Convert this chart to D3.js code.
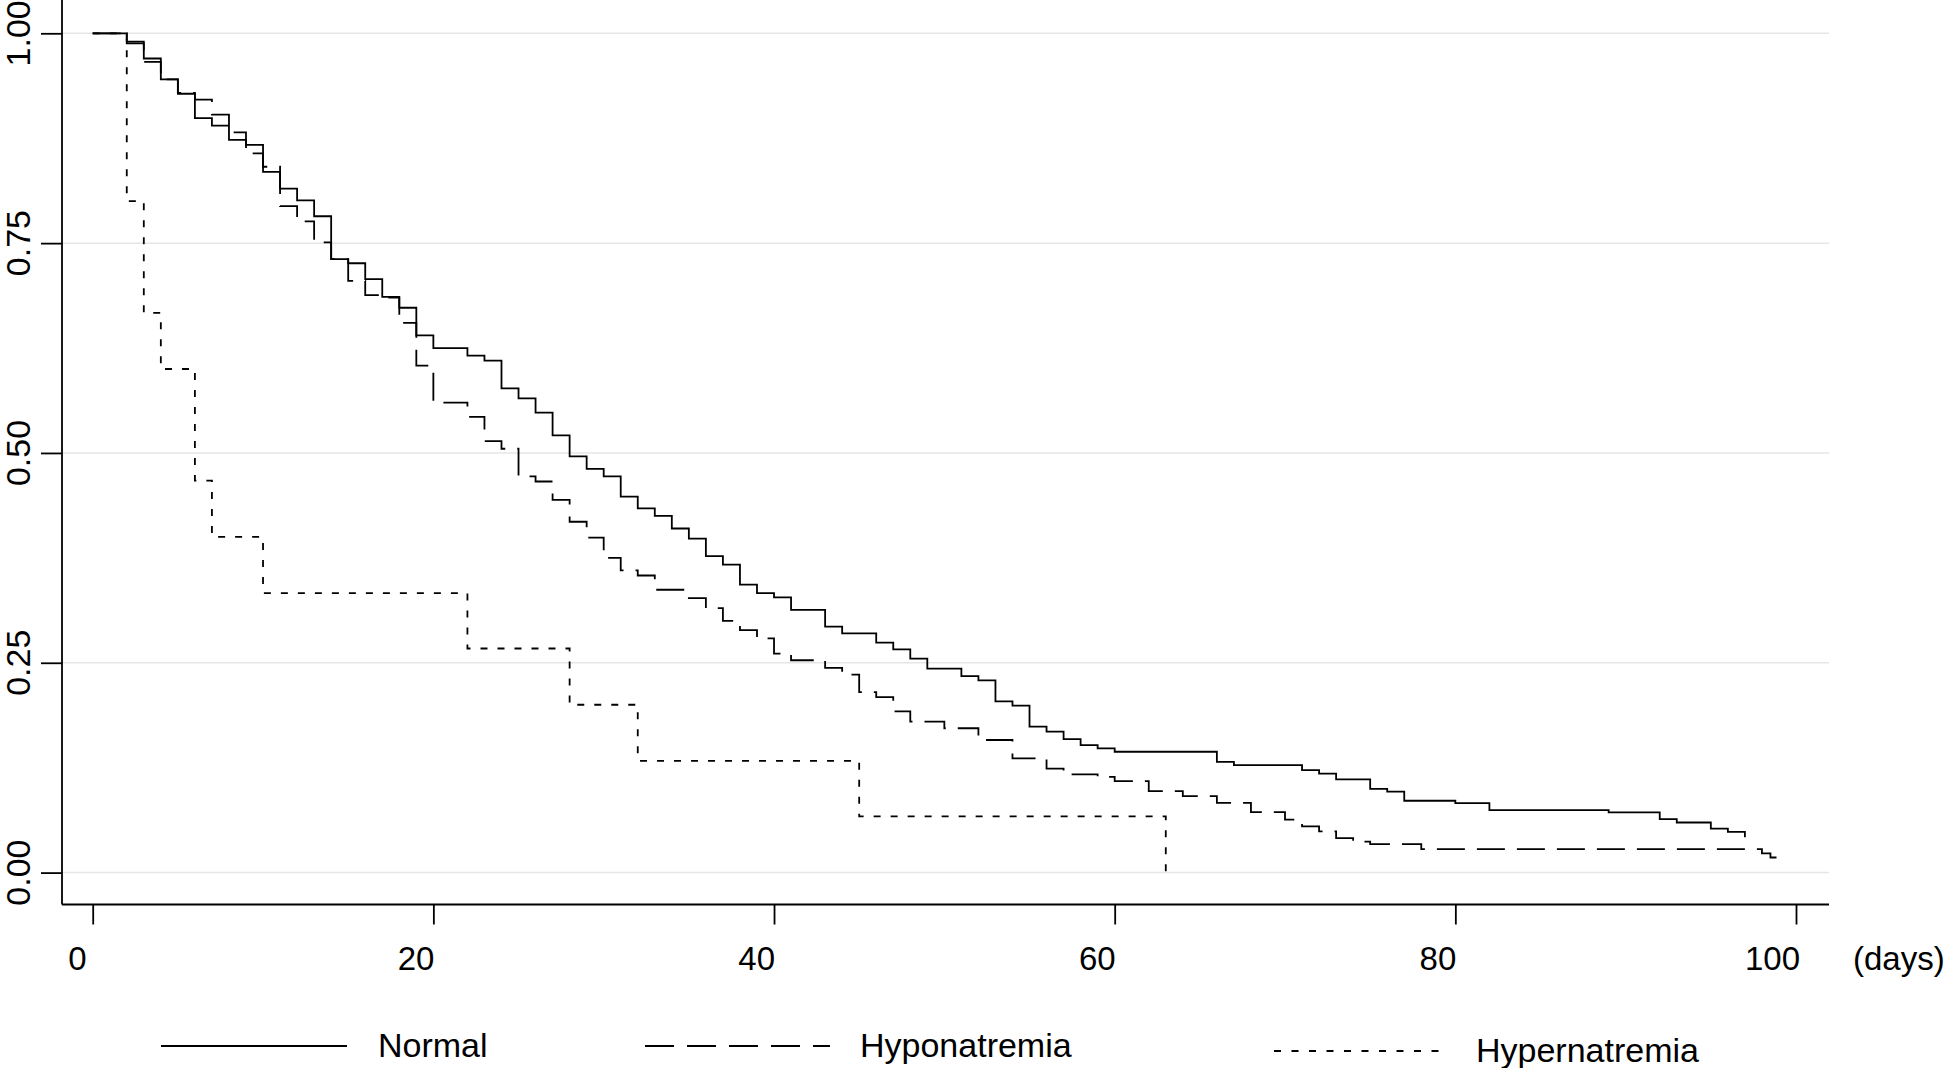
<!DOCTYPE html>
<html>
<head>
<meta charset="utf-8">
<script src="https://cdn.jsdelivr.net/npm/d3@7"></script>
<style>
  html, body { margin: 0; padding: 0; background: #ffffff; }
  svg { display: block; }
  text { font-family: "Liberation Sans", Arial, Helvetica, sans-serif; fill: #000; }
</style>
</head>
<body>
<svg id="chart" width="1946" height="1068"></svg>
<script>
// ---- data ----
const xTicks = [0, 20, 40, 60, 80, 100];
const xTickLabels = ["0", "20", "40", "60", "80", "100"];
const xUnitLabel = "(days)";
const yTicks = [0, 0.25, 0.5, 0.75, 1];
const yTickLabels = ["0.00", "0.25", "0.50", "0.75", "1.00"];
const seriesNames = ["Normal", "Hyponatremia", "Hypernatremia"];

// [day, survival probability]
const normal = [
  [0,1],[2,0.988],[3,0.970],[4,0.945],[5,0.928],[6,0.899],[7,0.890],[8,0.873],[9,0.867],
  [10,0.835],[11,0.815],[12,0.801],[13,0.782],[14,0.731],[15,0.726],[16,0.707],[17,0.686],
  [18,0.673],[19,0.640],[20,0.625],[22,0.616],[23,0.610],[24,0.577],[25,0.565],[26,0.548],
  [27,0.521],[28,0.496],[29,0.481],[30,0.472],[31,0.448],[32,0.434],[33,0.425],[34,0.410],
  [35,0.398],[36,0.377],[37,0.367],[38,0.343],[39,0.333],[40,0.328],[41,0.313],[43,0.293],
  [44,0.285],[46,0.274],[47,0.266],[48,0.255],[49,0.243],[51,0.234],[52,0.229],[53,0.204],
  [54,0.199],[55,0.174],[56,0.168],[57,0.159],[58,0.152],[59,0.148],[60,0.144],[66,0.132],
  [67,0.128],[71,0.122],[72,0.118],[73,0.111],[75,0.0997],[76,0.0965],[77,0.0856],[80,0.0828],
  [82,0.0744],[89,0.0717],[92,0.0637],[93,0.0597],[95,0.0525],[96,0.0486],[97,0.042]
];
const hyponatremia = [
  [0,1],[2,0.990],[3,0.966],[4,0.945],[5,0.929],[6,0.921],[7,0.903],[8,0.882],[9,0.857],
  [10,0.841],[11,0.794],[12,0.776],[13,0.751],[14,0.731],[15,0.705],[16,0.688],[17,0.685],
  [18,0.655],[19,0.604],[20,0.560],[22,0.543],[23,0.514],[24,0.505],[25,0.472],[26,0.466],
  [27,0.444],[28,0.418],[29,0.399],[30,0.375],[31,0.360],[32,0.354],[33,0.337],[35,0.327],
  [36,0.315],[37,0.300],[38,0.289],[39,0.279],[40,0.261],[41,0.253],[43,0.244],[44,0.236],
  [45,0.215],[46,0.209],[47,0.192],[48,0.180],[50,0.172],[52,0.158],[54,0.136],[56,0.124],
  [57,0.117],[59,0.114],[60,0.109],[62,0.097],[64,0.091],[66,0.083],[68,0.072],[70,0.063],
  [71,0.055],[72,0.049],[73,0.041],[74,0.037],[75,0.034],[78,0.028],[98,0.023],[98.5,0.018],
  [99.2,0.018]
];
const hypernatremia = [
  [0,1],[2,0.8],[3,0.667],[4,0.6],[6,0.467],[7,0.4],[10,0.333],[22,0.267],[28,0.2],
  [32,0.133],[45,0.067],[63,0]
];

// ---- drawing ----
const svg = d3.select("#chart");
svg.append("rect").attr("width", 1946).attr("height", 1068).attr("fill", "#fff");

const axisX = 62, axisY = 904.5, plotRight = 1829;
const x = d3.scaleLinear().domain([0, 100]).range([92.7, 1796]);
const y = d3.scaleLinear().domain([0, 1]).range([872.6, 33.3]);

// gridlines
svg.append("g").selectAll("line").data(yTicks).join("line")
  .attr("x1", axisX).attr("x2", plotRight)
  .attr("y1", d => y(d)).attr("y2", d => y(d))
  .attr("stroke", "#e6e6e6").attr("stroke-width", 1.5);

// y axis
const yAxis = d3.axisLeft(y).tickValues(yTicks).tickSize(21).tickFormat(() => "");
const gy = svg.append("g").attr("transform", `translate(${axisX},0)`).call(yAxis);
gy.select(".domain").remove();
gy.selectAll(".tick line").attr("stroke", "#000").attr("stroke-width", 1.8);
svg.append("line").attr("x1", axisX).attr("x2", axisX).attr("y1", 0).attr("y2", axisY)
  .attr("stroke", "#000").attr("stroke-width", 1.8);
svg.append("g").selectAll("text").data(yTicks).join("text")
  .attr("transform", d => `translate(30,${y(d)}) rotate(-90)`)
  .attr("text-anchor", "middle")
  .attr("font-size", 34)
  .text((d, i) => yTickLabels[i]);

// x axis
const xAxis = d3.axisBottom(x).tickValues(xTicks).tickSize(20).tickFormat(() => "");
const gx = svg.append("g").attr("transform", `translate(0,${axisY})`).call(xAxis);
gx.select(".domain").remove();
gx.selectAll(".tick line").attr("stroke", "#000").attr("stroke-width", 1.8);
svg.append("line").attr("x1", axisX).attr("x2", plotRight).attr("y1", axisY).attr("y2", axisY)
  .attr("stroke", "#000").attr("stroke-width", 1.8);
svg.append("g").selectAll("text").data(xTicks).join("text")
  .attr("x", (d, i) => x(d) + (i === 0 ? -6 : (i === xTicks.length - 1 ? 4 : 1))).attr("y", 970)
  .attr("text-anchor", "end").attr("font-size", 33)
  .text((d, i) => xTickLabels[i]);
svg.append("text").attr("x", 1853).attr("y", 970).attr("font-size", 33).text(xUnitLabel);

// curves
const line = d3.line().x(d => x(d[0])).y(d => y(d[1])).curve(d3.curveStepAfter);
const styles = [
  { data: normal, dash: null },
  { data: hyponatremia, dash: "28,12" },
  { data: hypernatremia, dash: "7,10" }
];
[2, 1, 0].forEach(i => {
  svg.append("path").datum(styles[i].data)
    .attr("d", line)
    .attr("fill", "none").attr("stroke", "#000").attr("stroke-width", 1.8)
    .attr("stroke-dasharray", styles[i].dash);
});

// legend
const legend = [
  { x1: 161, x2: 347, ly: 1046, tx: 378, ty: 1057, dash: null },
  { x1: 645, x2: 830, ly: 1046, tx: 860, ty: 1057, dash: "29,13" },
  { x1: 1274, x2: 1446, ly: 1051, tx: 1476, ty: 1062, dash: "7,10.5" }
];
legend.forEach((l, i) => {
  svg.append("line").attr("x1", l.x1).attr("x2", l.x2).attr("y1", l.ly).attr("y2", l.ly)
    .attr("stroke", "#000").attr("stroke-width", 1.8).attr("stroke-dasharray", l.dash);
  svg.append("text").attr("x", l.tx).attr("y", l.ty).attr("font-size", 34).text(seriesNames[i]);
});
</script>
</body>
</html>
